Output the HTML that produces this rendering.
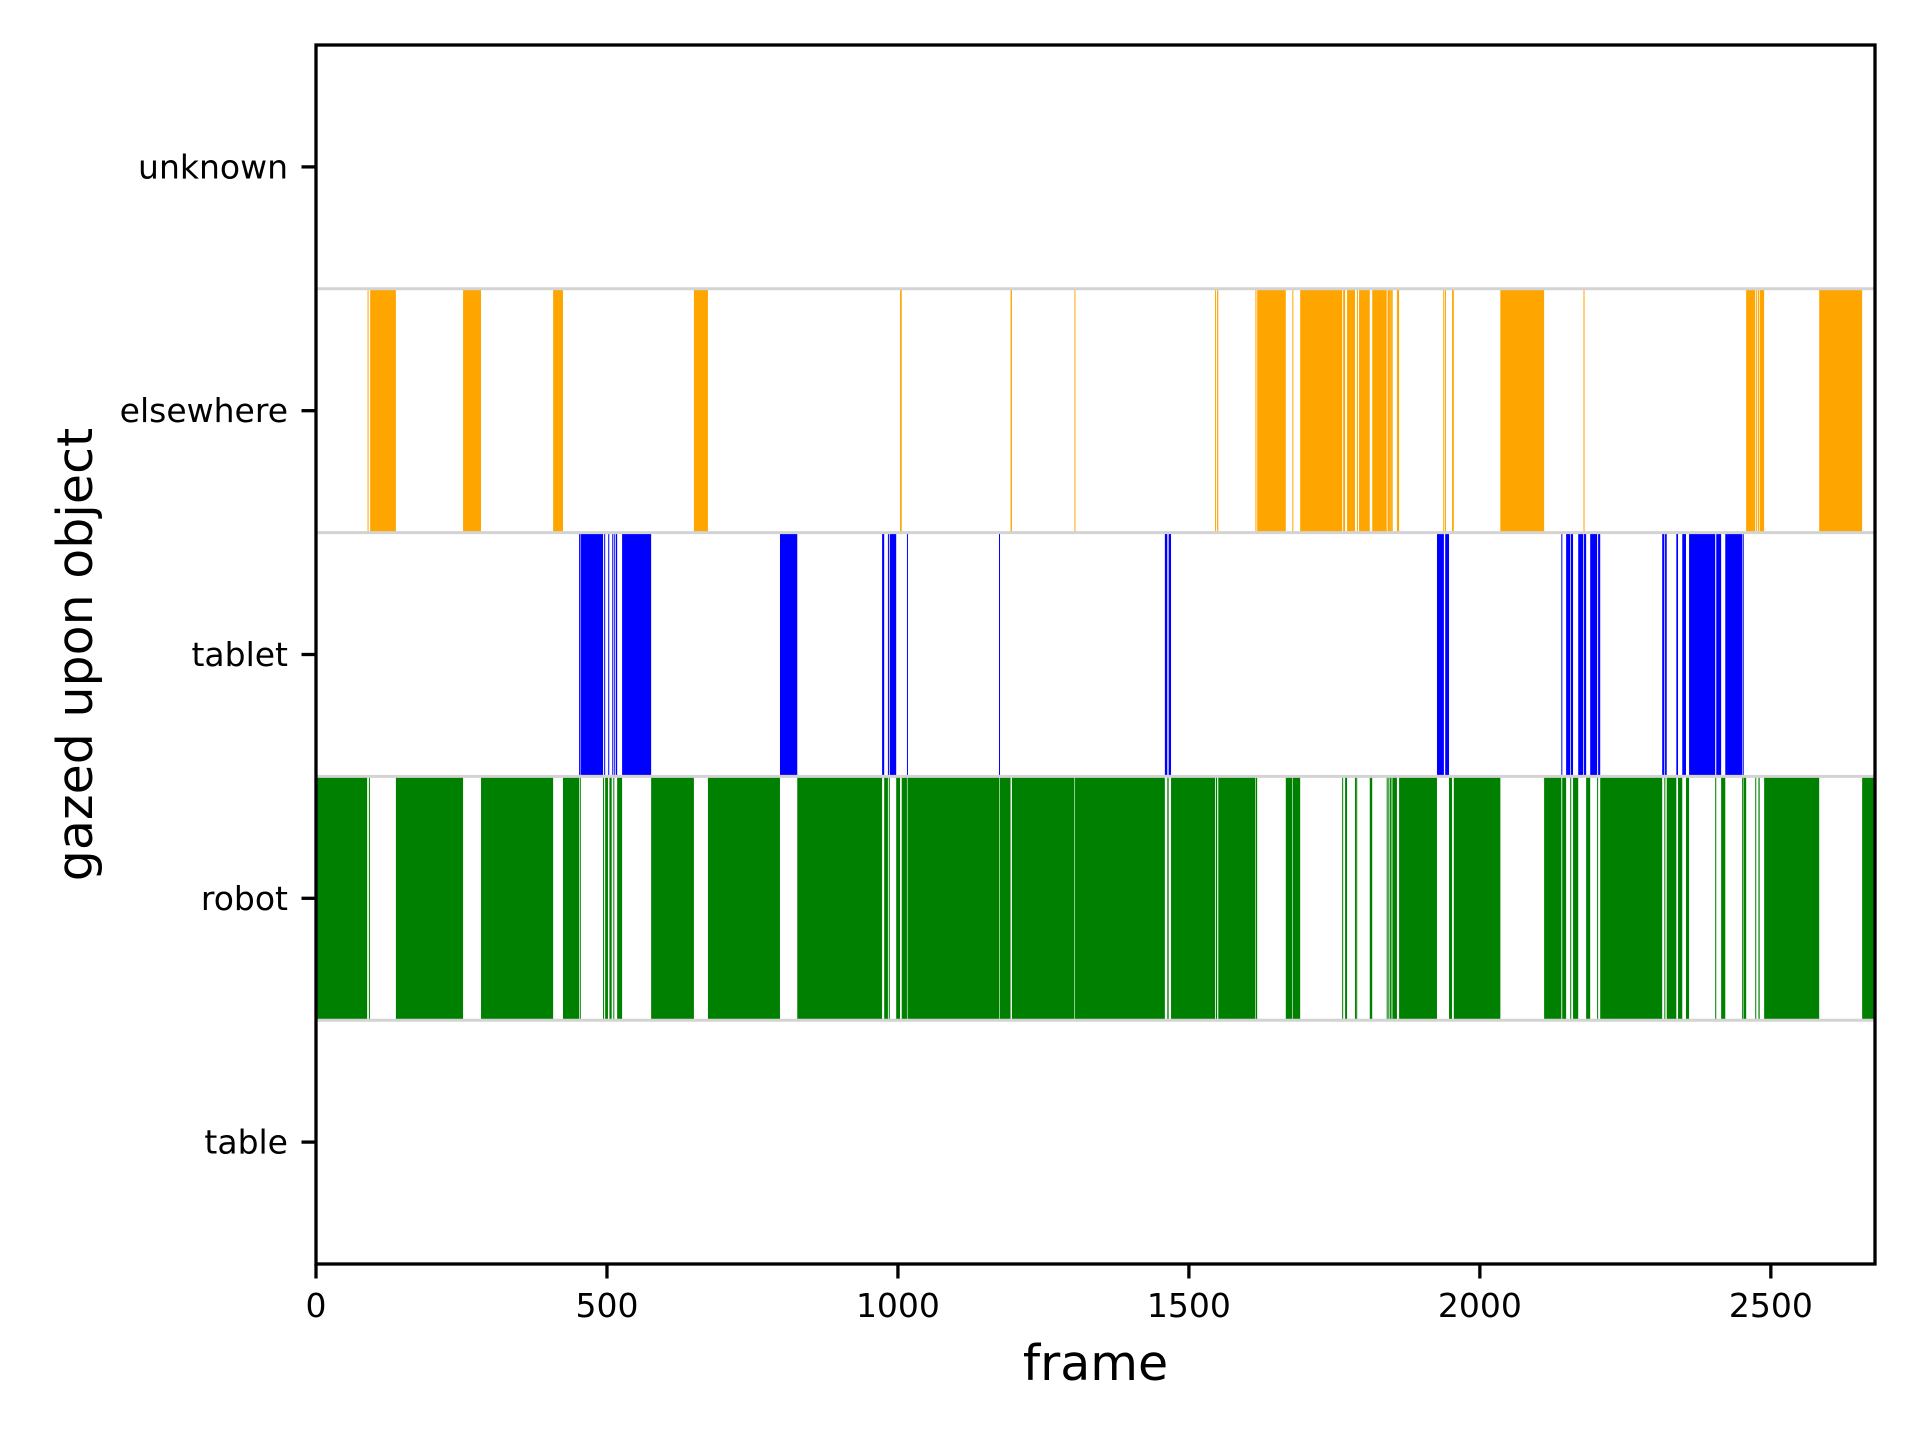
<!DOCTYPE html>
<html><head><meta charset="utf-8"><title>gazed upon object</title>
<style>
html,body{margin:0;padding:0;background:#fff;}
svg{display:block;font-family:"DejaVu Sans","Liberation Sans",sans-serif;}
</style></head>
<body>
<svg id="chart" width="1920" height="1440" viewBox="0 0 1920 1440" xmlns="http://www.w3.org/2000/svg">
<rect x="0" y="0" width="1920" height="1440" fill="#fff"/>
<g id="plot"></g>
</svg>
<script>
const categories = ["table", "robot", "tablet", "elsewhere", "unknown"];
const xTicks = [0, 500, 1000, 1500, 2000, 2500];
const xMax = 2679;
const elsewhereSegments = [[88.6,90.1],[93.1,137.3],[252.7,283.6],[407.5,424.4],[649.4,673.5],[1003.6,1006.5],[1193.5,1195.9],[1303.3,1304.3],[1545.0,1546.4],[1548.5,1550.5],[1614.3,1615.3],[1617.3,1666.5],[1677.8,1678.8],[1691.2,1763.4],[1765.1,1768.4],[1771.8,1785.4],[1788.7,1789.5],[1792.4,1810.8],[1815.0,1839.9],[1841.4,1842.2],[1843.0,1843.9],[1844.9,1845.7],[1846.7,1847.5],[1848.5,1849.3],[1857.5,1861.2],[1937.1,1937.9],[1940.0,1940.8],[1952.2,1955.2],[2035.2,2110.4],[2178.1,2178.9],[2457.6,2473.2],[2474.7,2475.5],[2477.9,2478.7],[2480.8,2488.5],[2583.1,2656.9]];
const tabletSegments = [[452.1,453.1],[454.6,455.6],[456.3,493.3],[495.2,496.4],[502.2,503.4],[509.1,510.9],[512.5,514.0],[515.5,517.5],[526.0,575.9],[797.3,827.0],[972.8,976.4],[982.8,984.3],[985.9,997.0],[1015.5,1016.5],[1173.7,1174.7],[1458.7,1462.9],[1465.2,1469.3],[1926.3,1938.2],[1940.4,1947.0],[2140.0,2141.5],[2148.2,2155.3],[2156.5,2160.1],[2169.0,2177.7],[2179.0,2182.6],[2189.6,2201.5],[2203.2,2206.8],[2313.3,2317.0],[2318.2,2321.1],[2337.6,2340.5],[2347.8,2354.2],[2359.5,2404.4],[2406.2,2414.6],[2421.7,2450.7],[2451.7,2452.7]];
const robotSegments = [[0,87.9],[90.9,91.9],[137.3,252.7],[283.6,407.5],[424.4,452.1],[453.3,454.3],[493.3,494.8],[496.9,501.7],[504.2,508.1],[510.9,512.1],[517.5,526.0],[575.9,649.4],[673.5,797.3],[827.0,972.8],[976.4,982.8],[984.3,985.9],[997.0,1003.6],[1006.5,1015.5],[1016.5,1173.7],[1174.7,1193.5],[1195.9,1303.3],[1304.3,1458.7],[1462.9,1465.2],[1469.3,1545.0],[1546.4,1548.5],[1550.5,1614.3],[1615.3,1617.3],[1666.5,1677.8],[1678.8,1691.2],[1763.4,1765.1],[1768.4,1771.8],[1785.4,1786.6],[1787.5,1788.7],[1810.8,1815.0],[1839.9,1840.7],[1842.7,1843.5],[1845.5,1846.3],[1848.1,1848.9],[1850.5,1857.5],[1861.2,1926.3],[1947.0,1952.2],[1955.2,2035.2],[2110.4,2140.0],[2141.5,2148.2],[2155.3,2156.5],[2160.1,2169.0],[2182.6,2189.6],[2201.5,2203.2],[2206.8,2313.3],[2317.0,2318.2],[2321.1,2337.6],[2340.5,2347.8],[2354.2,2359.5],[2404.4,2406.2],[2414.6,2421.7],[2450.7,2451.7],[2453.2,2457.6],[2473.2,2474.7],[2478.7,2480.8],[2488.5,2583.1],[2656.9,2679]];
const seriesSegments = [robotSegments, tabletSegments, elsewhereSegments];
const seriesRows = ["robot", "tablet", "elsewhere"];
const seriesColors = ["#008000", "#0000ff", "#ffa500"];

const NS = "http://www.w3.org/2000/svg";
const L = 316, R = 1875, T = 45, B = 1264;
const plot = document.getElementById("plot");
function xScale(v){ return L + (v / xMax) * (R - L); }
const rowH = (B - T) / categories.length;
function yCenter(i){ return B - (i + 0.5) * rowH; }
function mk(tag, attrs){ const e = document.createElementNS(NS, tag); for (const k in attrs) e.setAttribute(k, attrs[k]); plot.appendChild(e); return e; }

seriesSegments.forEach((segs, s) => {
  const ri = categories.indexOf(seriesRows[s]);
  const y0 = yCenter(ri) - rowH / 2;
  segs.forEach((seg, j) => {
    const x0 = xScale(seg[0]), x1 = xScale(seg[1]);
    const r = mk("rect", {x: x0, y: y0, width: Math.max(1, x1 - x0), height: rowH, fill: seriesColors[s]});
    
    
  });
});
for (let k = 1; k <= 4; k++) {
  const y = B - k * rowH;
  const ln = mk("line", {x1: L, x2: R, y1: y, y2: y, stroke: "#d3d3d3", "stroke-width": 3});
  
  
}
const frame = mk("rect", {x: L, y: T, width: R - L, height: B - T, fill: "none", stroke: "#000", "stroke-width": 3.3});


categories.forEach((c, i) => {
  const y = yCenter(i);
  const t = mk("line", {x1: L - 14.5, x2: L, y1: y, y2: y, stroke: "#000", "stroke-width": 3.3});
  
  
  const tx = mk("text", {x: L - 28, y: y, "text-anchor": "end", "dominant-baseline": "central", "font-size": 33, fill: "#000"});
  tx.textContent = c;
  
  
});
xTicks.forEach(v => {
  const x = xScale(v);
  const t = mk("line", {x1: x, x2: x, y1: B, y2: B + 14.5, stroke: "#000", "stroke-width": 3.3});
  
  
  const tx = mk("text", {x: x, y: B + 28, "text-anchor": "middle", "dominant-baseline": "hanging", "font-size": 33, fill: "#000"});
  tx.textContent = String(v);
  
  
});
const xl = mk("text", {x: (L + R) / 2, y: 1380, "text-anchor": "middle", "font-size": 49, fill: "#000"});
xl.textContent = "frame";


const yl = mk("text", {x: 0, y: 0, "text-anchor": "middle", "font-size": 49, fill: "#000", transform: "translate(92," + ((T + B) / 2) + ") rotate(-90)"});
yl.textContent = "gazed upon object";


</script>
</body></html>
